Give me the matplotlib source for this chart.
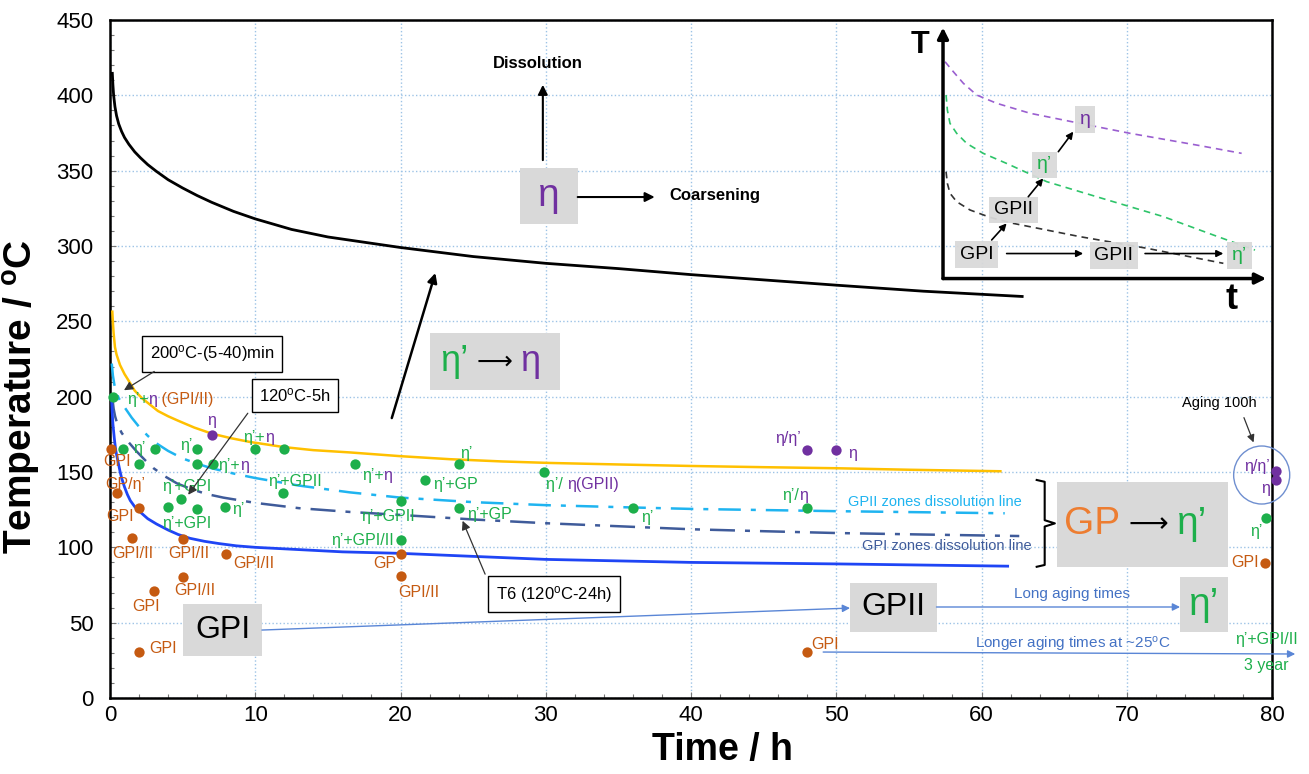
import matplotlib
matplotlib.use("Agg")
import matplotlib.pyplot as plt
from matplotlib.patches import Rectangle, Ellipse

plt.rcParams['font.family'] = ['Liberation Sans', 'DejaVu Sans']
plt.rcParams['mathtext.fontset'] = 'custom'
plt.rcParams['mathtext.rm'] = 'Liberation Sans'
plt.rcParams['mathtext.it'] = 'Liberation Sans:italic'
plt.rcParams['mathtext.bf'] = 'Liberation Sans:bold'

# ---------------- data ----------------
black_t = [0.16, 0.2, 0.25, 0.34, 0.45, 0.6, 0.8, 1.0, 1.3, 1.7, 2.1, 2.6, 3.2, 4, 5, 6, 7, 8.5,
           10, 12.5, 15, 17.5, 20, 25, 30, 35, 40, 45, 50, 56, 62.8]
black_T = [414.6, 407, 400, 392.5, 386.5, 381, 376, 372, 367.5, 362.5, 358.5, 354, 349.5, 344,
           338.5, 333.5, 329, 323, 318, 311, 306, 302.5, 299, 293, 288.5, 285, 281, 277.5, 274,
           270, 266.5]

yellow_t = [0.16, 0.2, 0.25, 0.34, 0.45, 0.69, 1.0, 1.26, 1.7, 2.2, 2.64, 3.3, 4, 4.7, 5.8, 7,
            8.3, 9.6, 12, 14, 16.5, 20, 23.4, 27, 30.3, 35, 40, 45, 50, 55, 61.3]
yellow_T = [256.4, 249, 242, 233, 228, 221, 215, 211, 204, 199, 195.6, 190.5, 187, 184, 179.5,
            175.5, 172.5, 170, 166.5, 164.5, 163, 160.5, 158.5, 157, 156, 155, 154, 153.2, 152.5,
            151.5, 150.5]

gp2_t = [0.12, 0.2, 0.3, 0.4, 0.6, 0.8, 1.0, 1.5, 2.0, 2.6, 3.2, 4, 5, 6, 7, 8.5, 10, 13, 16.5,
         20, 25, 30, 35, 40, 50, 61.6]
gp2_T = [222, 214, 208, 204, 199, 196, 193, 186, 180, 174, 169, 164, 159, 155.5, 152.5, 149, 146,
         141, 136.5, 133, 130, 128, 126.7, 125.5, 124, 122.6]

gp1_t = [0.15, 0.25, 0.35, 0.5, 0.8, 1.26, 1.8, 2.4, 3, 3.8, 4.6, 5.5, 6.6, 7.8, 10, 13, 16.5, 20,
         25, 30, 35, 40, 45, 50, 56, 62.6]
gp1_T = [200, 192, 187, 182, 176, 170, 164, 158, 152.5, 147, 142.5, 139, 135.5, 133, 129.5, 126,
         123.5, 121.5, 118.5, 116, 114, 112, 110.7, 109.5, 108.5, 107.5]

blue_t = [0.1, 0.15, 0.2, 0.3, 0.4, 0.57, 0.7, 0.8, 1.0, 1.2, 1.4, 1.7, 2.07, 2.6, 3.2, 4, 4.7,
          5.5, 6.5, 7.5, 8.7, 10, 13, 16, 20, 25, 30, 35, 40, 50, 61.8]
blue_T = [200, 190, 182, 172, 164, 156, 150, 146, 140, 135, 131, 127, 123.5, 119, 115.5, 111.5,
          108.5, 106, 104, 102.5, 101, 100, 98.5, 97, 96, 94, 92, 91, 90, 89, 87.5]

green_t = [0.2, 0.9, 3.1, 6.0, 10, 12, 2.0, 6.0, 7.1, 11.9, 4.9, 4.0, 6.0, 7.9,
           16.9, 21.7, 24, 29.9, 20, 24, 20, 36, 48, 79.6]
green_T = [200, 165, 165, 165, 165, 165, 155, 155, 155, 136, 132, 127, 125.4, 127,
           155, 144.7, 155, 150.2, 130.7, 125.9, 105, 126, 126, 119.7]

orange_t = [0.07, 0.5, 2.0, 1.5, 5.0, 8.0, 5.0, 3.0, 2.0, 20, 20, 48, 79.5]
orange_T = [165, 135.9, 125.9, 106.4, 105.3, 95.4, 80.5, 71, 30.7, 95.6, 81, 30.5, 89.8]

purple_t = [7.0, 48, 50, 80.3, 80.3]
purple_T = [174.6, 164.6, 164.6, 150.7, 144.7]

# schematic inset curves (drawn in main-axes units)
ins_eta_t = [57.49, 58.06, 58.75, 59.67, 61.05, 63.34, 66.78, 70.22, 74.81, 77.91]
ins_eta_T = [422.3, 415.7, 408, 400.2, 394.7, 388.1, 381.4, 374.8, 367, 361.5]
ins_etap_t = [57.56, 57.65, 57.83, 58.29, 58.98, 60.12, 61.73, 64.49, 67.93, 72.52, 75.96, 78.83]
ins_etap_T = [400.2, 390.3, 381.4, 374.8, 368.1, 361.5, 354.8, 342.7, 332.7, 319.5, 307.3, 297.3]
ins_gp_t = [57.56, 57.65, 57.83, 58.29, 59.21, 60.59, 62.19, 66.78, 71.37, 76.65]
ins_gp_T = [349.3, 341.6, 335, 329.4, 323.9, 319, 315, 306.2, 298.5, 288.5]

x_ticks = [0, 10, 20, 30, 40, 50, 60, 70, 80]
y_ticks = [0, 50, 100, 150, 200, 250, 300, 350, 400, 450]

GREEN = '#1DAF4B'
ORANGE = '#C55A11'
PURPLE = '#7030A0'
GOLD = '#FFC000'
BLUE = '#1F45F5'
LBLUE = '#1FB4F0'
DBLUE = '#3F5B9A'
ABLUE = '#5A86D6'
GREY = '#D9D9D9'
ARROW = '⟶'
AFAM = ['DejaVu Sans']

fig = plt.figure(figsize=(13.09, 7.74), dpi=100)
ax = fig.add_axes([110/1309, 1-698/774, (1272-110)/1309, (698-20)/774])
ax.set_xlim(0, 80)
ax.set_ylim(0, 450)
ax.set_xticks(x_ticks)
ax.set_yticks(y_ticks)
ax.set_xticks(range(0, 81, 2), minor=True)
ax.set_yticks(range(0, 451, 10), minor=True)
ax.tick_params(which='both', direction='in', color='#777777', width=0.8)
ax.tick_params(which='major', length=4)
ax.tick_params(which='minor', length=3)
ax.tick_params(axis='y', labelsize=16, pad=12)
ax.tick_params(axis='x', labelsize=16, pad=5)
ax.grid(True, which='major', color='#9DC3E6', linestyle=':', linewidth=1.0)
ax.set_axisbelow(True)
for s in ax.spines.values():
    s.set_linewidth(1.8)
    s.set_color('black')

ax.set_xlabel('Time / h', fontsize=27, fontweight='bold')
ax.set_ylabel(r'Temperature / $\mathbf{^{o}}$C', fontsize=28, fontweight='bold')
ax.xaxis.set_label_coords(0.527, -0.05)
ax.yaxis.set_label_coords(-0.058, 0.444)

# ---------------- curves ----------------
ax.plot(black_t, black_T, color='black', lw=2.0, zorder=3)
ax.plot(yellow_t, yellow_T, color=GOLD, lw=1.8, zorder=3)
ax.plot(gp2_t, gp2_T, color=LBLUE, lw=1.8, dashes=(9, 4, 2, 4), zorder=3)
ax.plot(gp1_t, gp1_T, color=DBLUE, lw=1.8, dashes=(10, 4, 2, 4), zorder=3)
ax.plot(blue_t, blue_T, color=BLUE, lw=2.0, zorder=3)

# ---------------- points ----------------
ax.scatter(green_t, green_T, s=55, color=GREEN, zorder=5, clip_on=False, linewidths=0)
ax.scatter(orange_t, orange_T, s=55, color=ORANGE, zorder=5, clip_on=False, linewidths=0)
ax.scatter(purple_t, purple_T, s=55, color=PURPLE, zorder=5, clip_on=False, linewidths=0)

FS = 11.5

def lab(x, y, s, c, ha='center', fs=FS):
    ax.text(x, y, s, color=c, fontsize=fs, ha=ha, va='center', zorder=6)

def multi(x, y, parts, fs=FS):
    t = ax.text(x, y, parts[0][0], color=parts[0][1], fontsize=fs, ha='left', va='center', zorder=6)
    for s, c in parts[1:]:
        t = ax.annotate(s, xy=(1, 0.5), xycoords=t, color=c, fontsize=fs,
                        ha='left', va='center', zorder=6)

E = 'η’'
multi(1.15, 198.3, [(E + '+', GREEN), ('η', PURPLE), (' (GPI/II)', ORANGE)])
lab(7.0, 184.5, 'η', PURPLE)
lab(2.0, 165.3, E, GREEN)
lab(5.28, 167.9, E, GREEN)
multi(9.18, 172.6, [(E + '+', GREEN), ('η', PURPLE)])
multi(7.46, 154.6, [(E + '+', GREEN), ('η', PURPLE)])
lab(5.28, 140.2, E + '+GPI', GREEN)
lab(12.74, 143.6, E + '+GPII', GREEN)
lab(5.28, 116.0, E + '+GPI', GREEN)
lab(8.81, 124.8, E, GREEN)
lab(0.46, 156.8, 'GPI', ORANGE)
lab(1.03, 142.0, 'GP/' + E, ORANGE)
lab(0.69, 120.3, 'GPI', ORANGE)
lab(1.55, 96.0, 'GPI/II', ORANGE)
lab(5.46, 96.0, 'GPI/II', ORANGE)
lab(9.93, 89.4, 'GPI/II', ORANGE)
lab(5.85, 71.2, 'GPI/II', ORANGE)
lab(2.47, 60.6, 'GPI', ORANGE)
lab(3.67, 33.0, 'GPI', ORANGE)
multi(17.33, 148.0, [(E + '+', GREEN), ('η', PURPLE)])
lab(23.8, 141.4, E + '+GP', GREEN)
lab(24.5, 162.4, E, GREEN)
lab(19.16, 120.3, E + '+GPII', GREEN)
lab(26.16, 121.5, E + '+GP', GREEN)
lab(17.38, 104.4, E + '+GPI/II', GREEN)
lab(18.93, 89.4, 'GP', ORANGE)
lab(21.23, 69.9, 'GPI/II', ORANGE)
multi(30.0, 141.4, [(E + '/ ', GREEN), ('η(GPII)', PURPLE)])
lab(36.97, 120.1, E, GREEN)
lab(46.7, 172.4, 'η/' + E, PURPLE)
lab(51.1, 162.4, 'η', PURPLE)
multi(46.31, 134.1, [(E + '/', GREEN), ('η', PURPLE)])
lab(49.2, 35.2, 'GPI', ORANGE)
lab(78.95, 153.5, 'η/' + E, PURPLE)
lab(79.57, 139.2, 'η', PURPLE)
lab(78.95, 110.4, E, GREEN)
lab(78.14, 89.8, 'GPI', ORANGE)
lab(79.63, 38.5, E + '+GPI/II', GREEN)
lab(79.63, 21.9, '3 year', GREEN)

# dissolution line labels
ax.text(56.8, 130.3, 'GPII zones dissolution line', color=LBLUE, fontsize=10.5, ha='center', va='center')
ax.text(57.6, 100.9, 'GPI zones dissolution line', color=DBLUE, fontsize=10.5, ha='center', va='center')

# ---------------- callout boxes ----------------
def callout(x, y, s, xt, yt, xa, ya):
    ax.text(x, y, s, fontsize=12, ha='center', va='center', zorder=7,
            bbox=dict(boxstyle='square,pad=0.45', fc='white', ec='black', lw=1))
    ax.annotate('', xy=(xa, ya), xytext=(xt, yt), zorder=7,
                arrowprops=dict(arrowstyle='-|>', color='#333333', lw=0.9, mutation_scale=13))

callout(7.02, 228.6, r'200$^{\rm o}$C-(5-40)min', 3.21, 217.7, 0.8, 203.3)
callout(12.74, 201.1, r'120$^{\rm o}$C-5h', 9.6, 190.5, 5.27, 133.4)
callout(30.57, 69.0, r'T6 (120$^{\rm o}$C-24h)', 25.9, 80.5, 24.2, 119.3)

ax.text(76.4, 195.8, 'Aging 100h', fontsize=10.5, ha='center', va='center')
ax.annotate('', xy=(78.8, 167.9), xytext=(78.0, 187.8),
            arrowprops=dict(arrowstyle='-|>', color='#333333', lw=0.9, mutation_scale=11))
ax.add_patch(Ellipse((79.29, 148), 3.86, 38.5, fill=False, ec='#6F8FD0', lw=1.0, clip_on=False, zorder=4))

# ---------------- big grey boxes ----------------
def gbox(x0px, y0px, x1px, y1px):
    xa = (x0px - 110) / 14.525
    xb = (x1px - 110) / 14.525
    ya = (698 - y1px) / 1.5067
    yb = (698 - y0px) / 1.5067
    ax.add_patch(Rectangle((xa, ya), xb - xa, yb - ya, fc=GREY, ec='none', zorder=4))

def chain(x, y, parts):
    t = ax.text(x, y, parts[0][0], color=parts[0][1], fontsize=parts[0][2],
                family=parts[0][3], ha='left', va='center', zorder=5)
    for s, c, fs, fam in parts[1:]:
        t = ax.annotate(s, xy=(1, 0.5), xycoords=t, color=c, fontsize=fs, family=fam,
                        ha='left', va='center', zorder=5)

LS = ['Liberation Sans', 'DejaVu Sans']
gbox(520, 168, 578, 224)
ax.text(30.2, 333.2, 'η', color=PURPLE, fontsize=28, ha='center', va='center', zorder=5)
gbox(430, 333, 560, 390)
chain(22.75, 223.3, [(E, GREEN, 26, LS), (' ' + ARROW + ' ', 'black', 18, AFAM), ('η', PURPLE, 26, LS)])
gbox(1057, 482, 1228, 567)
chain(65.65, 115.2, [('GP', '#ED7D31', 28, LS), (' ' + ARROW + ' ', 'black', 20, AFAM), (E, GREEN, 28, LS)])
gbox(183, 604, 262, 656)
ax.text(7.75, 45.1, 'GPI', color='black', fontsize=23, ha='center', va='center', zorder=5)
gbox(850, 583, 937, 632)
ax.text(53.9, 60.1, 'GPII', color='black', fontsize=23, ha='center', va='center', zorder=5)
gbox(1180, 577, 1228, 632)
ax.text(75.3, 62.0, E, color=GREEN, fontsize=28, ha='center', va='center', zorder=5)

# brace
ax.plot([63.8, 64.35, 64.35, 65.05, 64.35, 64.35, 63.8],
        [144.7, 143.5, 118.0, 115.9, 113.8, 88.3, 87.1], color='black', lw=1.5, zorder=4)

# ---------------- process arrows ----------------
def arr(x0, y0, x1, y1, c='black', lw=1.5, ms=14):
    ax.annotate('', xy=(x1, y1), xytext=(x0, y0), zorder=6, annotation_clip=False,
                arrowprops=dict(arrowstyle='-|>', color=c, lw=lw, mutation_scale=ms,
                                shrinkA=0, shrinkB=0))

arr(29.8, 357, 29.8, 407)
ax.text(29.47, 420.8, 'Dissolution', fontsize=12, fontweight='bold', ha='center', va='center')
arr(32.2, 332.5, 37.5, 332.5)
ax.text(41.65, 333.2, 'Coarsening', fontsize=12, fontweight='bold', ha='center', va='center')
arr(19.4, 185.8, 22.4, 282.1, lw=1.8, ms=14)

arr(10.46, 45.1, 50.95, 59.7, c=ABLUE, lw=1.0, ms=11)
arr(56.9, 60.4, 73.67, 60.4, c=ABLUE, lw=1.0, ms=11)
ax.text(66.2, 69.0, 'Long aging times', color='#4472C4', fontsize=11, ha='center', va='center')
arr(49.1, 30.5, 81.6, 29.2, c=ABLUE, lw=1.0, ms=11)
ax.text(66.3, 35.8, r'Longer aging times at ~25$^{\rm o}$C', color='#4472C4', fontsize=11, ha='center', va='center')

# ---------------- schematic inset ----------------
arr(57.35, 278.4, 57.35, 445, lw=2.5, ms=16)
arr(57.35, 278.4, 79.6, 278.4, lw=2.5, ms=16)
ax.text(55.8, 433.4, 'T', fontsize=22, fontweight='bold', ha='center', va='center')
ax.text(77.25, 264.2, 't', fontsize=26, fontweight='bold', ha='center', va='center')
ax.plot(ins_eta_t, ins_eta_T, color='#9A5FD0', lw=1.2, dashes=(4, 3), zorder=4)
ax.plot(ins_etap_t, ins_etap_T, color='#2EC46A', lw=1.2, dashes=(4, 3), zorder=4)
ax.plot(ins_gp_t, ins_gp_T, color='#333333', lw=1.2, dashes=(4, 3), zorder=4)

def ibox(x, y, s, c, fs=14):
    ax.text(x, y, s, color=c, fontsize=fs, ha='center', va='center', zorder=5,
            bbox=dict(boxstyle='square,pad=0.25', fc=GREY, ec='none', alpha=0.95))

ibox(59.67, 294.4, 'GPI', 'black')
ibox(62.19, 323.9, 'GPII', 'black')
ibox(64.32, 353.8, E, GREEN)
ibox(67.13, 384.1, 'η', PURPLE)
ibox(69.12, 293.9, 'GPII', 'black')
ibox(77.75, 293.9, E, GREEN)
arr(61.73, 295, 67.0, 295, lw=1.2, ms=10)
arr(71.26, 295, 76.65, 295, lw=1.2, ms=10)
arr(60.7, 304, 61.73, 315, lw=1.2, ms=10)
arr(63.22, 332.7, 64.25, 344.9, lw=1.2, ms=10)
arr(65.29, 362.6, 66.32, 375.9, lw=1.2, ms=10)

fig.savefig('out.png', dpi=100)
